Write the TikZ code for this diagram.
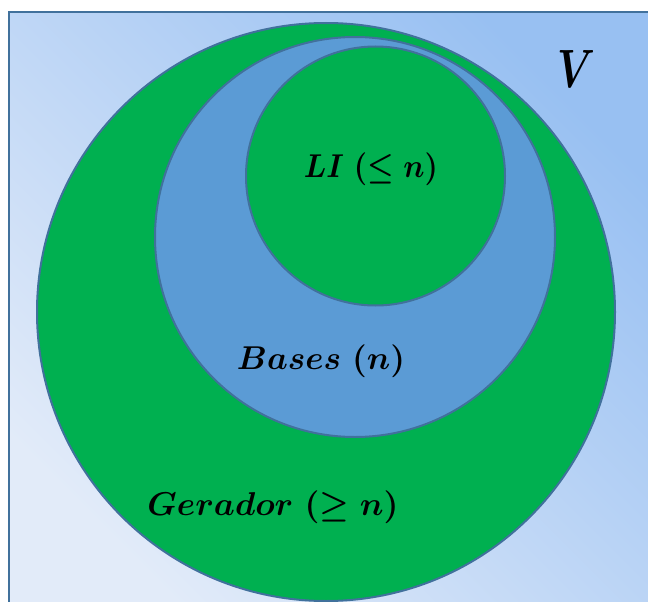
\documentclass[tikz,border=0pt]{standalone}
\usepackage{amsmath}
\usepackage{graphicx}
\definecolor{edgeblue}{HTML}{41719C}
\definecolor{fillgreen}{HTML}{00B050}
\definecolor{fillblue}{HTML}{5B9BD5}
\definecolor{bglight}{HTML}{E2EBF9}
\definecolor{bgdark}{HTML}{98C0F2}
\tikzset{
  setcircle/.style={circle, draw=edgeblue, line width=2pt, inner sep=0pt},
  lbl/.style={font=\boldmath, text=black, inner sep=0pt}
}
\begin{document}
\begin{tikzpicture}[x=1pt,y=-1pt]
\useasboundingbox (0,0) rectangle (648,602);
\clip (0,0) rectangle (648,602);
\fill[white] (0,0) rectangle (648,602);
\shade[bottom color=bglight, top color=bgdark, shading angle=-45] (9,12) rectangle (670,625);
\draw[edgeblue, line width=2pt] (670,12) -- (9,12) -- (9,625);
\node[setcircle, fill=fillgreen, minimum size=578pt] (gen) at (326,312) {};
\node[setcircle, fill=fillblue, minimum size=400pt] (bas) at (355,237) {};
\node[setcircle, fill=fillgreen, minimum size=259pt] (li) at (375.5,176) {};
\node[lbl] (tli) at (371,169) {\resizebox*{134pt}{33pt}{$LI\ (\leq n)$}};
\node[lbl] (tbas) at (321,361) {\resizebox*{168pt}{33pt}{$Bases\ (n)$}};
\node[lbl] (tgen) at (273,507) {\resizebox*{251pt}{33pt}{$Gerador\ (\geq n)$}};
\node[lbl] (tv) at (576,69) {\resizebox{38pt}{37pt}{$\boldsymbol{V}$}};
\end{tikzpicture}
\end{document}
